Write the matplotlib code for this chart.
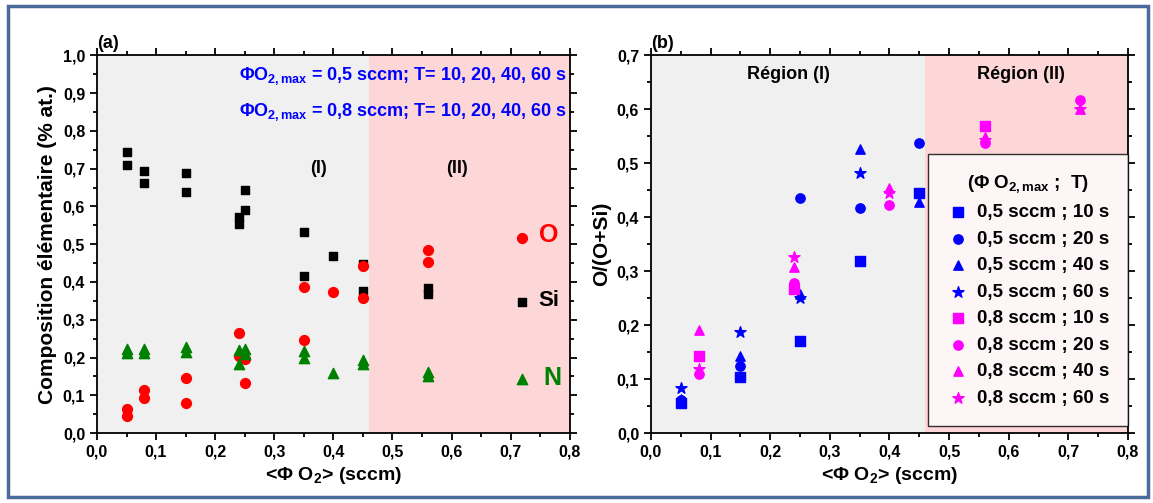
import matplotlib.pyplot as plt
import matplotlib.patches as mpatches
from matplotlib.ticker import FuncFormatter, MultipleLocator

plt.rcParams['font.family'] = ['Liberation Sans', 'DejaVu Sans']
plt.rcParams['font.weight'] = 'bold'
plt.rcParams['mathtext.fontset'] = 'custom'
plt.rcParams['mathtext.rm'] = 'Liberation Sans:bold'
plt.rcParams['mathtext.it'] = 'Liberation Sans:bold'
plt.rcParams['mathtext.bf'] = 'Liberation Sans:bold'

# ---- (a) composition vs <phi O2> ----
si_x = [0.05, 0.05, 0.08, 0.08, 0.15, 0.15, 0.24, 0.24, 0.25, 0.25, 0.35, 0.35, 0.40, 0.45, 0.45, 0.56, 0.56, 0.72]
si_y = [0.744, 0.710, 0.695, 0.662, 0.689, 0.639, 0.572, 0.553, 0.643, 0.590, 0.533, 0.416, 0.468, 0.448, 0.376, 0.385, 0.368, 0.347]
o_x = [0.05, 0.05, 0.08, 0.08, 0.15, 0.15, 0.24, 0.24, 0.25, 0.25, 0.35, 0.35, 0.40, 0.45, 0.45, 0.56, 0.56, 0.72]
o_y = [0.065, 0.044, 0.113, 0.093, 0.146, 0.080, 0.266, 0.205, 0.196, 0.132, 0.386, 0.247, 0.373, 0.441, 0.357, 0.484, 0.453, 0.516]
n_x = [0.05, 0.05, 0.08, 0.08, 0.15, 0.15, 0.24, 0.24, 0.25, 0.25, 0.35, 0.35, 0.40, 0.45, 0.45, 0.56, 0.56, 0.72]
n_y = [0.222, 0.211, 0.222, 0.212, 0.227, 0.215, 0.220, 0.184, 0.222, 0.209, 0.218, 0.198, 0.160, 0.193, 0.184, 0.162, 0.150, 0.142]

# ---- (b) O/(O+Si) for each (phi O2,max ; T) ----
series = [
    ("0,5 sccm ; 10 s", "blue", "s", [0.05, 0.15, 0.25, 0.35, 0.45], [0.056, 0.104, 0.171, 0.318, 0.444]),
    ("0,5 sccm ; 20 s", "blue", "o", [0.05, 0.15, 0.25, 0.35, 0.45], [0.062, 0.125, 0.435, 0.417, 0.537]),
    ("0,5 sccm ; 40 s", "blue", "^", [0.05, 0.15, 0.25, 0.35, 0.45], [0.064, 0.143, 0.258, 0.527, 0.428]),
    ("0,5 sccm ; 60 s", "blue", "*", [0.05, 0.15, 0.25, 0.35], [0.084, 0.187, 0.251, 0.482]),
    ("0,8 sccm ; 10 s", "#ff00ff", "s", [0.08, 0.24, 0.56], [0.143, 0.267, 0.569]),
    ("0,8 sccm ; 20 s", "#ff00ff", "o", [0.08, 0.24, 0.40, 0.56, 0.72], [0.109, 0.279, 0.423, 0.537, 0.617]),
    ("0,8 sccm ; 40 s", "#ff00ff", "^", [0.08, 0.24, 0.40, 0.56, 0.72], [0.191, 0.307, 0.454, 0.549, 0.601]),
    ("0,8 sccm ; 60 s", "#ff00ff", "*", [0.08, 0.24, 0.40, 0.56, 0.72], [0.119, 0.326, 0.445, 0.543, 0.600]),
]

region_limit = 0.46
gray = "#f0f0f0"
pink = "#fdd7d7"

comma = FuncFormatter(lambda v, p: ("%.1f" % v).replace(".", ","))

fig = plt.figure(figsize=(11.53, 5.03), dpi=100)
fig.patches.append(mpatches.Rectangle((8 / 1153, 6 / 503), 1140 / 1153, 491 / 503,
                                      transform=fig.transFigure, fill=False,
                                      edgecolor="#4a6a9c", linewidth=2.5))

ax1 = fig.add_axes([0.0841, 0.139, 0.410, 0.751])
ax2 = fig.add_axes([0.5646, 0.139, 0.4137, 0.751])


def style_axis(ax, ymax):
    ax.set_xlim(0, 0.8)
    ax.set_ylim(0, ymax)
    ax.axvspan(0, region_limit, color=gray, lw=0, zorder=0)
    ax.axvspan(region_limit, 0.8, color=pink, lw=0, zorder=0)
    ax.xaxis.set_major_locator(MultipleLocator(0.1))
    ax.xaxis.set_minor_locator(MultipleLocator(0.05))
    ax.yaxis.set_major_locator(MultipleLocator(0.1))
    ax.yaxis.set_minor_locator(MultipleLocator(0.05))
    ax.xaxis.set_major_formatter(comma)
    ax.yaxis.set_major_formatter(comma)
    ax.tick_params(which="both", direction="out", labelsize=11.5, width=1.3)
    ax.tick_params(which="both", top=True, right=True)
    ax.tick_params(axis="x", which="both", top=True)
    ax.tick_params(which="major", length=5)
    ax.tick_params(which="minor", length=3)
    for lab in ax.get_xticklabels() + ax.get_yticklabels():
        lab.set_fontweight("bold")
    for s in ax.spines.values():
        s.set_linewidth(1.3)
    ax.set_xlabel(r"<$\Phi$ O$_2$> (sccm)", fontsize=14, fontweight="bold")


style_axis(ax1, 1.0)
ax1.scatter(si_x, si_y, marker="s", s=40, color="black", zorder=3)
ax1.scatter(o_x, o_y, marker="o", s=50, color="red", zorder=3)
ax1.scatter(n_x, n_y, marker="^", s=55, color="green", zorder=3)
ax1.set_ylabel("Composition élémentaire (% at.)", fontsize=15, fontweight="bold")
ax1.text(0.795, 0.945, r"$\Phi$O$_{2,max}$ = 0,5 sccm; T= 10, 20, 40, 60 s", color="blue",
         fontsize=13, fontweight="bold", ha="right", va="center")
ax1.text(0.795, 0.85, r"$\Phi$O$_{2,max}$ = 0,8 sccm; T= 10, 20, 40, 60 s", color="blue",
         fontsize=13, fontweight="bold", ha="right", va="center")
ax1.text(0.375, 0.7, "(I)", fontsize=13, fontweight="bold", ha="center", va="center")
ax1.text(0.61, 0.7, "(II)", fontsize=13, fontweight="bold", ha="center", va="center")
ax1.text(0.765, 0.525, "O", color="red", fontsize=18, ha="center", va="center")
ax1.text(0.765, 0.35, "Si", color="black", fontsize=16, fontweight="bold", ha="center", va="center")
ax1.text(0.77, 0.145, "N", color="green", fontsize=18, fontweight="bold", ha="center", va="center")
ax1.text(0, 1.01, "(a)", fontsize=13, fontweight="bold", transform=ax1.transAxes, ha="left", va="bottom")

style_axis(ax2, 0.7)
for label, col, mk, xs, ys in series:
    size = 70 if mk == "*" else 45
    ax2.scatter(xs, ys, marker=mk, s=size, color=col, label=label, zorder=3)
ax2.set_ylabel("O/(O+Si)", fontsize=15, fontweight="bold")
ax2.text(0.23, 0.665, "Région (I)", fontsize=13, fontweight="bold", ha="center", va="center")
ax2.text(0.62, 0.665, "Région (II)", fontsize=13, fontweight="bold", ha="center", va="center")
ax2.text(0, 1.01, "(b)", fontsize=13, fontweight="bold", transform=ax2.transAxes, ha="left", va="bottom")
leg = ax2.legend(loc="lower right", bbox_to_anchor=(1.0, 0.02), borderaxespad=0, frameon=True,
                 fancybox=False, title=r"($\Phi$ O$_{2,max}$ ;  T)",
                 prop={"weight": "bold", "size": 13.5}, title_fontsize=13.5,
                 handletextpad=0.4, borderpad=1.0, labelspacing=0.5, handlelength=1.2)
leg.get_frame().set_edgecolor("black")
leg.get_frame().set_linewidth(1.0)
leg.get_title().set_fontweight("bold")

fig.savefig("out.png", dpi=100)
